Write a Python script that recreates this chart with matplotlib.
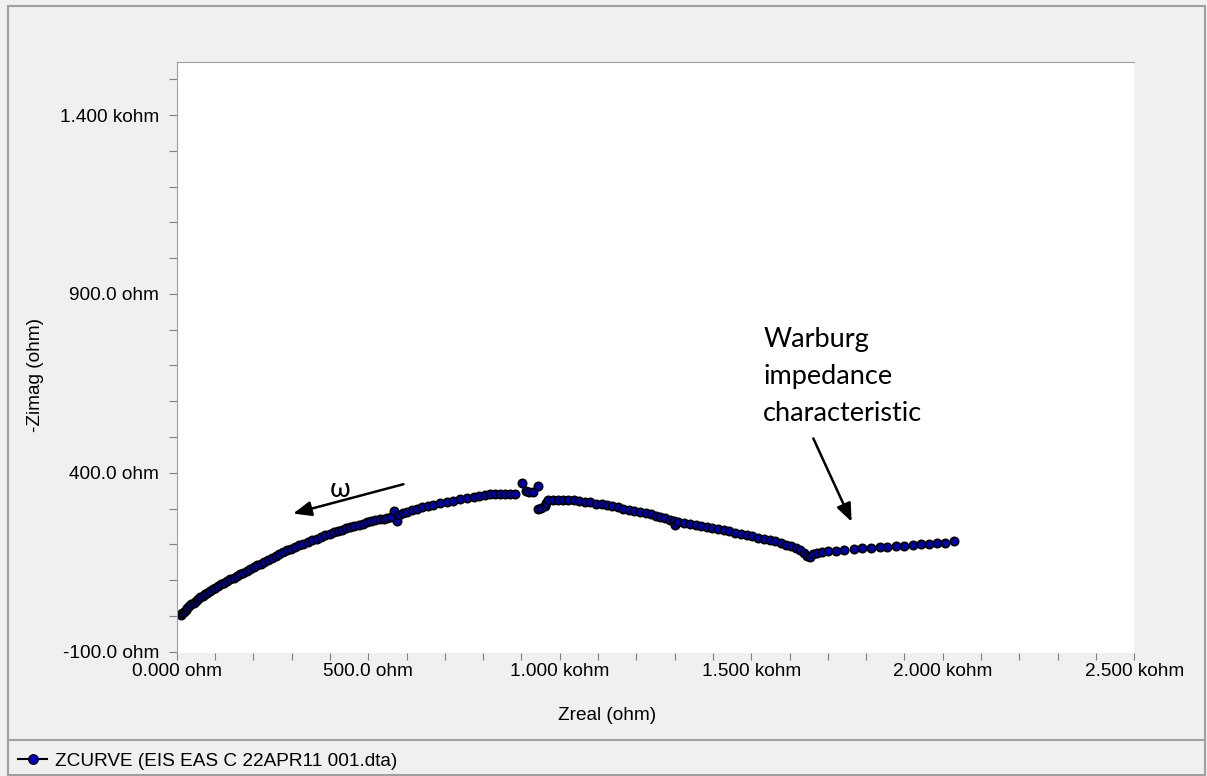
import matplotlib
matplotlib.use("Agg")
import matplotlib.pyplot as plt
from matplotlib.lines import Line2D
from matplotlib.patches import Rectangle
from matplotlib.ticker import FixedLocator, MultipleLocator

# Nyquist curve, both in ohm (-Zimag plotted up)
zreal = [
    10, 14, 18, 23, 28, 33, 38, 44, 50, 56,
    62, 68, 74, 80, 87, 94, 101, 108, 116, 124,
    132, 140, 149, 157, 166, 174, 183, 192, 201, 210,
    219, 228, 238, 248, 258, 268, 278, 288, 299, 310,
    320, 331, 343, 354, 366, 377, 388, 399, 410, 421,
    432, 443, 453, 464, 475, 486, 497, 508, 519, 530,
    540, 550, 560, 568, 574, 580, 590, 600, 613, 627,
    640, 655, 670, 687, 705, 722, 740, 757, 775, 790,
    805, 818, 831, 845, 858, 870, 884,
    901, 911, 920, 930, 943, 943, 952, 961, 964, 970,
    982, 995, 1008, 1021, 1036, 1050, 1065, 1080, 1095, 1110,
    1123, 1137, 1151, 1165, 1180, 1195, 1210, 1224, 1237, 1250,
    1263, 1276, 1288, 1297, 1302, 1310, 1325, 1340, 1355, 1370,
    1384, 1398, 1412, 1428, 1443, 1458, 1473, 1488, 1503, 1518,
    1533, 1548, 1563, 1578, 1592, 1605, 1617, 1628, 1637, 1645,
    1654, 1662, 1672, 1685, 1700, 1720, 1742, 1767, 1790, 1812,
    1835, 1855, 1877, 1900, 1921, 1942, 1963, 1985, 2006, 2029,
]
zimag = [
    2, 7, 12, 17, 22, 27, 32, 37, 42, 47,
    52, 56, 61, 65, 69, 74, 78, 83, 88, 92,
    97, 102, 107, 112, 117, 121, 126, 131, 136, 141,
    146, 151, 156, 162, 167, 173, 178, 183, 188, 193,
    197, 202, 207, 212, 216, 221, 225, 229, 233, 237,
    241, 245, 248, 252, 255, 258, 261, 264, 267, 270,
    272, 274, 277, 292, 264, 283, 287, 290, 295, 300,
    304, 308, 311, 315, 319, 322, 326, 330, 333, 336,
    338, 340, 341, 341, 341, 340, 340,
    370, 348, 347, 345, 362, 300, 302, 306, 316, 323,
    324, 324, 324, 324, 323, 321, 319, 317, 314, 312,
    309, 306, 303, 300, 297, 293, 290, 287, 284, 280,
    277, 273, 269, 266, 254, 263, 260, 257, 254, 251,
    248, 245, 242, 239, 236, 232, 229, 226, 223, 219,
    216, 212, 208, 203, 198, 194, 189, 184, 176, 168,
    165, 172, 177, 179, 180, 182, 185, 187, 189, 190,
    192, 193, 195, 196, 198, 200, 202, 204, 205, 208,
]

xticks = [0, 500, 1000, 1500, 2000, 2500]
xticklabels = ["0.000 ohm", "500.0 ohm", "1.000 kohm", "1.500 kohm", "2.000 kohm", "2.500 kohm"]
yticks = [-100, 400, 900, 1400]
yticklabels = ["-100.0 ohm", "400.0 ohm", "900.0 ohm", "1.400 kohm"]
curve_label = "ZCURVE (EIS EAS C 22APR11 001.dta)"

W, H = 1207, 776
ui_font = "Liberation Sans"
note_font = ["Lato", "Open Sans", "DejaVu Sans"]
fs = 13.7

fig = plt.figure(figsize=(W / 100, H / 100), dpi=100)
fig.patch.set_facecolor("#f0f0f0")

# window frame + legend strip
fig.add_artist(Rectangle((8.3 / W, 1 / H), (1205 - 8.3) / W, (775 - 5.7) / H,
                         transform=fig.transFigure, fill=False, ec="#a0a0a0", lw=1.5))
fig.add_artist(Line2D([8.3 / W, 1205 / W], [(H - 740) / H] * 2,
                      transform=fig.transFigure, color="#a0a0a0", lw=1.5))

ax = fig.add_axes([176.7 / W, (H - 652.7) / H, 957.6 / W, 591 / H])
ax.set_facecolor("white")

ax.plot(zreal, zimag, ls="none", marker="o", ms=6.0, mfc="#0000a8", mec="black", mew=1.2)

ax.set_xlim(0, 2500)
ax.set_ylim(-103, 1549)

ax.xaxis.set_major_locator(FixedLocator(xticks))
ax.set_xticklabels(xticklabels)
ax.xaxis.set_minor_locator(MultipleLocator(100))
ax.yaxis.set_major_locator(FixedLocator(yticks))
ax.set_yticklabels(yticklabels)
ax.yaxis.set_minor_locator(MultipleLocator(100))

for lab in ax.get_xticklabels() + ax.get_yticklabels():
    lab.set_fontfamily(ui_font)
    lab.set_fontsize(fs)

ax.tick_params(axis="x", which="both", direction="out", length=5, width=0.8,
               color="#808080", pad=2.7)
ax.tick_params(axis="y", which="both", direction="out", length=6, width=0.8,
               color="#808080", pad=6.5)

for side in ["bottom", "right"]:
    ax.spines[side].set_visible(False)
for side in ["left", "top"]:
    ax.spines[side].set_color("#a0a0a0")
    ax.spines[side].set_linewidth(0.8)

fig.text(607 / W, (H - 716) / H, "Zreal (ohm)", family=ui_font, fontsize=fs,
         ha="center", va="center")
fig.text(35 / W, (H - 375) / H, "-Zimag (ohm)", family=ui_font, fontsize=fs,
         ha="center", va="center", rotation=90)

# annotations
arrow = dict(arrowstyle="-|>,head_length=1.1,head_width=0.45", color="black",
             lw=1.8, shrinkA=0, shrinkB=0, mutation_scale=10)
ax.annotate("", xy=(304, 286), xytext=(592, 368), arrowprops=arrow)
ax.text(426, 333, "ω", family=note_font, fontsize=19.5, ha="center", va="baseline")

ax.text(1531, 546, "Warburg\nimpedance\ncharacteristic", family=note_font,
        fontsize=19.5, ha="left", va="baseline", linespacing=1.6)
ax.annotate("", xy=(1762, 263), xytext=(1662, 496), arrowprops=arrow)

# legend strip
handle = Line2D([], [], color="black", lw=1.5, marker="o", ms=7,
                mfc="#0000b0", mec="black", mew=0.8)
fig.legend(handles=[handle], labels=[curve_label], loc="center left",
           bbox_to_anchor=(18.3 / W, (H - 761) / H), frameon=False,
           handlelength=1.5, handletextpad=0.45, borderpad=0, borderaxespad=0,
           prop={"family": ui_font, "size": fs})

fig.savefig("out.png", dpi=100, facecolor=fig.get_facecolor())
